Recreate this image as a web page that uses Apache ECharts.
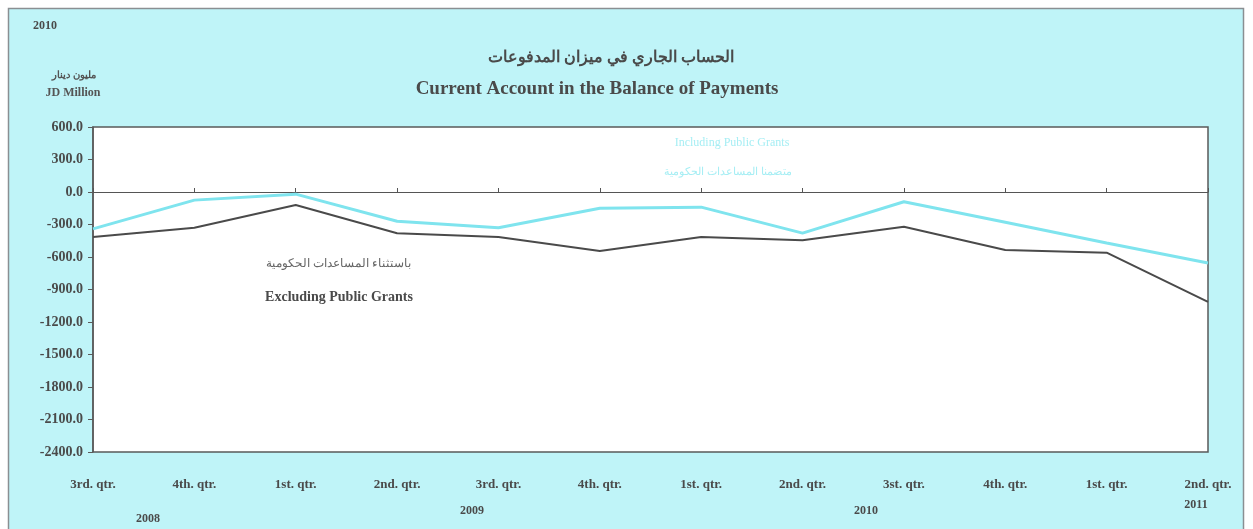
<!DOCTYPE html>
<html>
<head>
<meta charset="utf-8">
<script src="https://cdn.jsdelivr.net/npm/echarts@6/dist/echarts.min.js"></script>
<style>
html,body{margin:0;padding:0;background:#ffffff;}
#c{width:1253px;height:529px;}
</style>
</head>
<body>
<div id="c"></div>
<script>
// ---- data ----
var categories = ['3rd. qtr.','4th. qtr.','1st. qtr.','2nd. qtr.','3rd. qtr.','4th. qtr.','1st. qtr.','2nd. qtr.','3st. qtr.','4th. qtr.','1st. qtr.','2nd. qtr.'];
var excludingGrants = [-415, -330, -120, -380, -415, -545, -415, -445, -320, -535, -560, -1015];
var includingGrants = [-340, -75, -20, -270, -330, -150, -140, -380, -90, -280, -470, -655];
var yTicks = {min: -2400, max: 600, interval: 300};
var years = ['2008', '2009', '2010', '2011'];
var titleAr = 'الحساب الجاري في ميزان المدفوعات';
var titleEn = 'Current Account in the Balance of Payments';
var unitAr = 'مليون دينار';
var unitEn = 'JD Million';
var cornerYear = '2010';
var inclNameEn = 'Including Public Grants';
var inclNameAr = 'متضمنا المساعدات الحكومية';
var exclNameEn = 'Excluding Public Grants';
var exclNameAr = 'باستثناء المساعدات الحكومية';

var FONT = '"Liberation Serif", "Times New Roman", "DejaVu Serif", serif';
var TXT = '#4a4a4a';

var chart = echarts.init(document.getElementById('c'), null, {renderer: 'canvas'});

function txt(x, y, text, size, color, align, weight) {
  return {
    type: 'text', x: x, y: y, z: 10,
    style: {
      text: text, fill: color || TXT, font: (weight || 'bold') + ' ' + size + 'px ' + FONT,
      textAlign: align || 'center', textVerticalAlign: 'middle'
    }
  };
}

var option = {
  animation: false,
  backgroundColor: '#ffffff',
  graphic: [
    {type: 'rect', z: -10, shape: {x: 8.5, y: 8.5, width: 1235, height: 530},
     style: {fill: '#bff4f8', stroke: '#8a8f92', lineWidth: 1.5}},
    txt(45, 26, cornerYear, 12, '#4a4a4a'),
    txt(74, 75, unitAr, 10, '#555'),
    txt(73, 93, unitEn, 12, '#555'),
    txt(611, 58, titleAr, 16, '#4a4a4a'),
    txt(597, 89, titleEn, 19, '#4a4a4a'),
    txt(732, 143, inclNameEn, 12, '#a6eef4', 'center', 'normal'),
    txt(728, 172, inclNameAr, 11, '#a6eef4', 'center', 'normal'),
    txt(338, 264, exclNameAr, 12, '#666', 'center', 'normal'),
    txt(339, 297, exclNameEn, 14, '#4a4a4a'),
    txt(148, 519, years[0], 12, '#4a4a4a'),
    txt(472, 511, years[1], 12, '#4a4a4a'),
    txt(866, 511, years[2], 12, '#4a4a4a'),
    txt(1196, 505, years[3], 12, '#4a4a4a')
  ],
  grid: {
    left: 93, right: 45, top: 127, bottom: 77,
    show: true, backgroundColor: '#ffffff', borderColor: '#5a5a5a', borderWidth: 1.5,
    containLabel: false
  },
  xAxis: [
    {
      type: 'category', data: categories, boundaryGap: false, position: 'bottom',
      axisLine: {show: false, onZero: false}, axisTick: {show: false}, splitLine: {show: false},
      axisLabel: {margin: 26, color: TXT, fontFamily: FONT, fontWeight: 'bold', fontSize: 13, interval: 0, hideOverlap: false}
    },
    {
      type: 'category', data: categories, boundaryGap: false, position: 'bottom',
      axisLine: {show: true, onZero: true, onZeroAxisIndex: 0, lineStyle: {color: '#555', width: 1.2}},
      axisTick: {show: true, inside: true, length: 4, interval: 0, lineStyle: {color: '#555'}},
      axisLabel: {show: false}, splitLine: {show: false}
    }
  ],
  yAxis: {
    type: 'value', min: yTicks.min, max: yTicks.max, interval: yTicks.interval,
    axisLine: {show: true, onZero: false, lineStyle: {color: '#5a5a5a', width: 1.5}},
    axisTick: {show: true, length: 5, lineStyle: {color: '#5a5a5a'}},
    splitLine: {show: false},
    axisLabel: {
      margin: 10, color: TXT, fontFamily: FONT, fontWeight: 'bold', fontSize: 14,
      formatter: function (v) { return v.toFixed(1); }
    }
  },
  series: [
    {
      name: exclNameEn, type: 'line', data: excludingGrants, xAxisIndex: 0,
      symbol: 'none', lineStyle: {color: '#4a4a4a', width: 2}, z: 3
    },
    {
      name: inclNameEn, type: 'line', data: includingGrants, xAxisIndex: 0,
      symbol: 'none', lineStyle: {color: '#7fe4ee', width: 3}, z: 4
    }
  ]
};
chart.setOption(option);
</script>
</body>
</html>
